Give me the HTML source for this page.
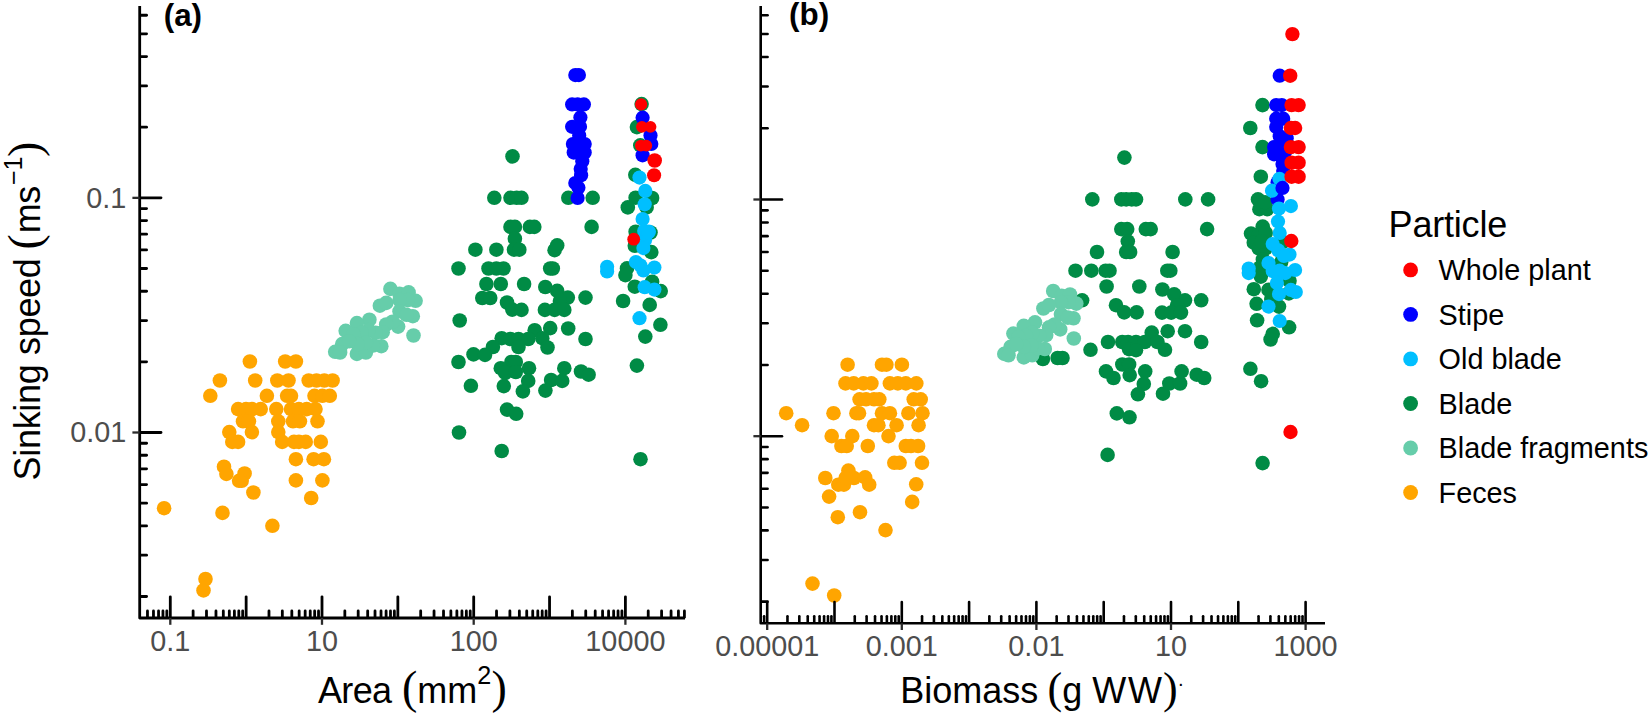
<!DOCTYPE html>
<html><head><meta charset="utf-8"><title>Sinking speed</title>
<style>
html,body{margin:0;padding:0;background:#fff;}
svg{display:block;}
text{font-family:"Liberation Sans",Arial,sans-serif;}
.tk{fill:#4d4d4d;font-size:28.8px;}
.ttl{fill:#000;font-size:36px;}
.sup{fill:#000;font-size:25.2px;}
.lg{fill:#000;font-size:28.8px;}
.sym{fill:#000;font-family:"Liberation Serif","DejaVu Serif",serif;font-size:45px;}
</style></head><body>
<svg width="1650" height="715" viewBox="0 0 1650 715">
<rect width="1650" height="715" fill="#fff"/>
<g fill="#FFA500"><circle cx="249.9" cy="361.5" r="7.3"/><circle cx="285.2" cy="361.5" r="7.3"/><circle cx="295.9" cy="361.5" r="7.3"/><circle cx="219.9" cy="380.5" r="7.3"/><circle cx="255.2" cy="380.5" r="7.3"/><circle cx="277.3" cy="380.5" r="7.3"/><circle cx="288.5" cy="380.5" r="7.3"/><circle cx="308.7" cy="380.5" r="7.3"/><circle cx="316.5" cy="380.5" r="7.3"/><circle cx="324.3" cy="380.5" r="7.3"/><circle cx="332.6" cy="380.5" r="7.3"/><circle cx="210.3" cy="395.8" r="7.3"/><circle cx="266.9" cy="395.8" r="7.3"/><circle cx="287.1" cy="395.8" r="7.3"/><circle cx="291.0" cy="395.8" r="7.3"/><circle cx="314.5" cy="395.8" r="7.3"/><circle cx="322.4" cy="395.8" r="7.3"/><circle cx="329.8" cy="395.8" r="7.3"/><circle cx="238.1" cy="409.1" r="7.3"/><circle cx="246.0" cy="409.1" r="7.3"/><circle cx="251.9" cy="409.1" r="7.3"/><circle cx="260.7" cy="409.1" r="7.3"/><circle cx="276.3" cy="409.1" r="7.3"/><circle cx="291.0" cy="409.1" r="7.3"/><circle cx="298.9" cy="409.1" r="7.3"/><circle cx="306.7" cy="409.1" r="7.3"/><circle cx="315.5" cy="409.1" r="7.3"/><circle cx="243.0" cy="421.3" r="7.3"/><circle cx="248.9" cy="421.3" r="7.3"/><circle cx="278.3" cy="421.3" r="7.3"/><circle cx="293.0" cy="421.3" r="7.3"/><circle cx="299.9" cy="421.3" r="7.3"/><circle cx="317.5" cy="421.3" r="7.3"/><circle cx="229.3" cy="432.1" r="7.3"/><circle cx="251.9" cy="432.1" r="7.3"/><circle cx="278.3" cy="432.1" r="7.3"/><circle cx="232.3" cy="441.9" r="7.3"/><circle cx="238.1" cy="441.9" r="7.3"/><circle cx="282.2" cy="441.9" r="7.3"/><circle cx="294.0" cy="441.9" r="7.3"/><circle cx="298.9" cy="441.9" r="7.3"/><circle cx="305.7" cy="441.9" r="7.3"/><circle cx="320.8" cy="441.9" r="7.3"/><circle cx="295.9" cy="459.2" r="7.3"/><circle cx="313.6" cy="459.2" r="7.3"/><circle cx="323.9" cy="459.2" r="7.3"/><circle cx="224.0" cy="466.7" r="7.3"/><circle cx="226.4" cy="473.9" r="7.3"/><circle cx="244.6" cy="473.5" r="7.3"/><circle cx="241.7" cy="480.8" r="7.3"/><circle cx="295.9" cy="480.4" r="7.3"/><circle cx="322.4" cy="480.4" r="7.3"/><circle cx="253.4" cy="492.5" r="7.3"/><circle cx="311.2" cy="498.0" r="7.3"/><circle cx="164.1" cy="508.2" r="7.3"/><circle cx="222.5" cy="512.9" r="7.3"/><circle cx="272.4" cy="525.8" r="7.3"/><circle cx="205.5" cy="579.0" r="7.3"/><circle cx="203.5" cy="590.4" r="7.3"/><circle cx="239.1" cy="480.8" r="7.3"/></g>
<g fill="#66CDAA"><circle cx="390.4" cy="288.9" r="7.3"/><circle cx="399.5" cy="293.8" r="7.3"/><circle cx="408.6" cy="292.4" r="7.3"/><circle cx="415.6" cy="300.8" r="7.3"/><circle cx="407.9" cy="300.1" r="7.3"/><circle cx="399.5" cy="300.1" r="7.3"/><circle cx="379.9" cy="305.7" r="7.3"/><circle cx="386.2" cy="302.9" r="7.3"/><circle cx="399.5" cy="311.3" r="7.3"/><circle cx="412.8" cy="316.2" r="7.3"/><circle cx="406.5" cy="314.8" r="7.3"/><circle cx="413.5" cy="335.5" r="7.3"/><circle cx="398.1" cy="326.6" r="7.3"/><circle cx="392.5" cy="321.7" r="7.3"/><circle cx="386.2" cy="324.5" r="7.3"/><circle cx="369.4" cy="319.7" r="7.3"/><circle cx="356.9" cy="323.1" r="7.3"/><circle cx="345.7" cy="330.8" r="7.3"/><circle cx="382.7" cy="332.2" r="7.3"/><circle cx="375.7" cy="332.9" r="7.3"/><circle cx="368.7" cy="330.1" r="7.3"/><circle cx="361.7" cy="332.9" r="7.3"/><circle cx="353.4" cy="334.3" r="7.3"/><circle cx="342.2" cy="344.1" r="7.3"/><circle cx="335.2" cy="351.8" r="7.3"/><circle cx="340.1" cy="352.5" r="7.3"/><circle cx="356.9" cy="353.9" r="7.3"/><circle cx="365.9" cy="352.5" r="7.3"/><circle cx="381.3" cy="346.2" r="7.3"/><circle cx="372.9" cy="345.5" r="7.3"/><circle cx="365.9" cy="342.7" r="7.3"/><circle cx="357.6" cy="344.1" r="7.3"/><circle cx="349.2" cy="341.3" r="7.3"/></g>
<g fill="#008B45"><circle cx="512.5" cy="156.4" r="7.3"/><circle cx="494.3" cy="197.8" r="7.3"/><circle cx="510.5" cy="197.8" r="7.3"/><circle cx="516.7" cy="197.8" r="7.3"/><circle cx="521.5" cy="197.8" r="7.3"/><circle cx="568.3" cy="197.8" r="7.3"/><circle cx="592.7" cy="197.8" r="7.3"/><circle cx="510.5" cy="226.9" r="7.3"/><circle cx="514.9" cy="226.9" r="7.3"/><circle cx="529.9" cy="226.9" r="7.3"/><circle cx="534.3" cy="226.9" r="7.3"/><circle cx="591.6" cy="226.9" r="7.3"/><circle cx="514.9" cy="238.7" r="7.3"/><circle cx="475.4" cy="249.7" r="7.3"/><circle cx="496.4" cy="249.7" r="7.3"/><circle cx="514.0" cy="249.7" r="7.3"/><circle cx="519.3" cy="249.7" r="7.3"/><circle cx="554.6" cy="250.2" r="7.3"/><circle cx="557.2" cy="245.4" r="7.3"/><circle cx="458.5" cy="268.5" r="7.3"/><circle cx="488.5" cy="268.5" r="7.3"/><circle cx="496.4" cy="268.5" r="7.3"/><circle cx="503.5" cy="268.5" r="7.3"/><circle cx="550.2" cy="268.5" r="7.3"/><circle cx="552.8" cy="268.5" r="7.3"/><circle cx="486.4" cy="284.0" r="7.3"/><circle cx="500.8" cy="284.0" r="7.3"/><circle cx="524.1" cy="284.0" r="7.3"/><circle cx="545.3" cy="287.0" r="7.3"/><circle cx="557.2" cy="290.9" r="7.3"/><circle cx="567.8" cy="297.6" r="7.3"/><circle cx="585.5" cy="297.6" r="7.3"/><circle cx="559.9" cy="301.1" r="7.3"/><circle cx="482.3" cy="298.0" r="7.3"/><circle cx="490.2" cy="298.0" r="7.3"/><circle cx="507.0" cy="302.5" r="7.3"/><circle cx="512.3" cy="309.6" r="7.3"/><circle cx="521.5" cy="309.9" r="7.3"/><circle cx="544.9" cy="309.9" r="7.3"/><circle cx="554.6" cy="309.9" r="7.3"/><circle cx="564.3" cy="309.9" r="7.3"/><circle cx="459.7" cy="320.5" r="7.3"/><circle cx="534.7" cy="330.2" r="7.3"/><circle cx="550.2" cy="328.1" r="7.3"/><circle cx="568.2" cy="328.5" r="7.3"/><circle cx="585.5" cy="339.0" r="7.3"/><circle cx="501.7" cy="338.2" r="7.3"/><circle cx="510.5" cy="339.0" r="7.3"/><circle cx="518.5" cy="339.0" r="7.3"/><circle cx="528.2" cy="339.0" r="7.3"/><circle cx="542.3" cy="338.2" r="7.3"/><circle cx="492.9" cy="347.0" r="7.3"/><circle cx="518.5" cy="347.0" r="7.3"/><circle cx="547.5" cy="347.5" r="7.3"/><circle cx="473.5" cy="354.4" r="7.3"/><circle cx="485.0" cy="354.9" r="7.3"/><circle cx="458.5" cy="362.0" r="7.3"/><circle cx="511.4" cy="362.0" r="7.3"/><circle cx="515.8" cy="362.0" r="7.3"/><circle cx="500.8" cy="368.2" r="7.3"/><circle cx="529.0" cy="368.2" r="7.3"/><circle cx="564.3" cy="368.2" r="7.3"/><circle cx="581.0" cy="371.5" r="7.3"/><circle cx="588.6" cy="374.7" r="7.3"/><circle cx="505.2" cy="372.9" r="7.3"/><circle cx="515.8" cy="372.0" r="7.3"/><circle cx="528.2" cy="380.9" r="7.3"/><circle cx="551.1" cy="380.0" r="7.3"/><circle cx="562.2" cy="380.9" r="7.3"/><circle cx="470.9" cy="385.8" r="7.3"/><circle cx="503.8" cy="386.1" r="7.3"/><circle cx="522.9" cy="391.4" r="7.3"/><circle cx="545.4" cy="390.6" r="7.3"/><circle cx="507.0" cy="409.6" r="7.3"/><circle cx="516.2" cy="413.8" r="7.3"/><circle cx="459.0" cy="432.5" r="7.3"/><circle cx="501.7" cy="451.0" r="7.3"/><circle cx="641.6" cy="104.1" r="7.3"/><circle cx="636.9" cy="127.1" r="7.3"/><circle cx="640.3" cy="145.3" r="7.3"/><circle cx="635.3" cy="174.8" r="7.3"/><circle cx="635.6" cy="197.7" r="7.3"/><circle cx="652.1" cy="198.0" r="7.3"/><circle cx="627.8" cy="207.4" r="7.3"/><circle cx="646.6" cy="207.4" r="7.3"/><circle cx="635.6" cy="231.7" r="7.3"/><circle cx="650.5" cy="232.5" r="7.3"/><circle cx="634.8" cy="245.8" r="7.3"/><circle cx="651.3" cy="252.1" r="7.3"/><circle cx="627.0" cy="268.4" r="7.3"/><circle cx="625.4" cy="275.1" r="7.3"/><circle cx="634.8" cy="286.7" r="7.3"/><circle cx="652.1" cy="281.7" r="7.3"/><circle cx="660.7" cy="291.1" r="7.3"/><circle cx="623.1" cy="301.0" r="7.3"/><circle cx="649.7" cy="304.9" r="7.3"/><circle cx="660.4" cy="324.8" r="7.3"/><circle cx="645.3" cy="336.6" r="7.3"/><circle cx="636.9" cy="365.6" r="7.3"/><circle cx="640.5" cy="459.2" r="7.3"/></g>
<g fill="#00BFFF"><circle cx="639.5" cy="177.6" r="7.1"/><circle cx="645.3" cy="190.9" r="7.1"/><circle cx="644.7" cy="204.3" r="7.1"/><circle cx="642.6" cy="219.1" r="7.1"/><circle cx="644.2" cy="230.9" r="7.1"/><circle cx="648.9" cy="231.7" r="7.1"/><circle cx="645.0" cy="240.3" r="7.1"/><circle cx="643.4" cy="248.1" r="7.1"/><circle cx="648.1" cy="232.4" r="7.1"/><circle cx="635.9" cy="262.1" r="7.1"/><circle cx="654.4" cy="267.6" r="7.1"/><circle cx="643.4" cy="270.4" r="7.1"/><circle cx="640.3" cy="265.3" r="7.1"/><circle cx="607.1" cy="266.8" r="7.1"/><circle cx="607.1" cy="271.5" r="7.1"/><circle cx="644.7" cy="287.2" r="7.1"/><circle cx="654.4" cy="289.6" r="7.1"/><circle cx="639.5" cy="318.2" r="7.1"/></g>
<g fill="#0000FF"><circle cx="575.3" cy="75.1" r="7.1"/><circle cx="578.9" cy="75.1" r="7.1"/><circle cx="572.1" cy="104.4" r="7.1"/><circle cx="577.6" cy="104.4" r="7.1"/><circle cx="583.9" cy="104.4" r="7.1"/><circle cx="580.4" cy="117.4" r="7.1"/><circle cx="572.1" cy="126.8" r="7.1"/><circle cx="580.0" cy="126.8" r="7.1"/><circle cx="579.2" cy="135.4" r="7.1"/><circle cx="572.9" cy="144.0" r="7.1"/><circle cx="579.2" cy="144.0" r="7.1"/><circle cx="584.7" cy="144.0" r="7.1"/><circle cx="573.7" cy="152.6" r="7.1"/><circle cx="580.0" cy="152.6" r="7.1"/><circle cx="584.7" cy="152.6" r="7.1"/><circle cx="582.3" cy="161.3" r="7.1"/><circle cx="642.6" cy="117.7" r="7.1"/><circle cx="650.5" cy="135.4" r="7.1"/><circle cx="651.3" cy="144.0" r="7.1"/><circle cx="642.6" cy="155.3" r="7.1"/><circle cx="580.7" cy="169.0" r="7.1"/><circle cx="581.1" cy="175.3" r="7.1"/><circle cx="575.3" cy="183.1" r="7.1"/><circle cx="578.4" cy="187.8" r="7.1"/><circle cx="577.6" cy="198.0" r="7.1"/></g>
<g fill="#FF0000"><circle cx="641.1" cy="104.4" r="6.1"/><circle cx="641.9" cy="126.8" r="5.9"/><circle cx="650.5" cy="126.8" r="5.9"/><circle cx="640.8" cy="145.6" r="5.9"/><circle cx="646.3" cy="145.6" r="5.9"/><circle cx="654.7" cy="160.5" r="7.3"/><circle cx="654.1" cy="175.3" r="7.05"/><circle cx="633.7" cy="239.2" r="6.4"/></g>
<g fill="#FFA500"><circle cx="847.6" cy="364.7" r="7.3"/><circle cx="882.0" cy="364.7" r="7.3"/><circle cx="886.4" cy="364.7" r="7.3"/><circle cx="901.9" cy="364.7" r="7.3"/><circle cx="845.5" cy="383.4" r="7.3"/><circle cx="853.7" cy="383.4" r="7.3"/><circle cx="863.4" cy="383.4" r="7.3"/><circle cx="871.4" cy="383.4" r="7.3"/><circle cx="889.9" cy="383.4" r="7.3"/><circle cx="897.8" cy="383.4" r="7.3"/><circle cx="905.8" cy="383.4" r="7.3"/><circle cx="916.3" cy="383.4" r="7.3"/><circle cx="859.6" cy="399.3" r="7.3"/><circle cx="866.1" cy="399.3" r="7.3"/><circle cx="874.0" cy="399.3" r="7.3"/><circle cx="879.3" cy="399.3" r="7.3"/><circle cx="913.7" cy="399.3" r="7.3"/><circle cx="920.7" cy="399.3" r="7.3"/><circle cx="786.2" cy="413.2" r="7.3"/><circle cx="833.5" cy="413.2" r="7.3"/><circle cx="856.4" cy="413.2" r="7.3"/><circle cx="859.0" cy="413.2" r="7.3"/><circle cx="882.0" cy="413.2" r="7.3"/><circle cx="889.9" cy="413.2" r="7.3"/><circle cx="908.4" cy="413.2" r="7.3"/><circle cx="922.5" cy="413.2" r="7.3"/><circle cx="802.1" cy="425.2" r="7.3"/><circle cx="874.0" cy="425.2" r="7.3"/><circle cx="878.4" cy="425.2" r="7.3"/><circle cx="896.6" cy="425.2" r="7.3"/><circle cx="918.6" cy="425.2" r="7.3"/><circle cx="831.7" cy="436.1" r="7.3"/><circle cx="852.3" cy="436.1" r="7.3"/><circle cx="888.5" cy="436.1" r="7.3"/><circle cx="841.4" cy="446.0" r="7.3"/><circle cx="846.7" cy="446.0" r="7.3"/><circle cx="867.8" cy="446.0" r="7.3"/><circle cx="905.8" cy="446.0" r="7.3"/><circle cx="911.0" cy="446.0" r="7.3"/><circle cx="918.1" cy="446.0" r="7.3"/><circle cx="894.3" cy="462.8" r="7.3"/><circle cx="899.6" cy="462.8" r="7.3"/><circle cx="922.0" cy="462.8" r="7.3"/><circle cx="848.4" cy="470.6" r="7.3"/><circle cx="825.3" cy="478.0" r="7.3"/><circle cx="853.9" cy="478.0" r="7.3"/><circle cx="865.1" cy="477.3" r="7.3"/><circle cx="838.3" cy="484.7" r="7.3"/><circle cx="843.9" cy="484.7" r="7.3"/><circle cx="869.2" cy="484.7" r="7.3"/><circle cx="916.2" cy="484.3" r="7.3"/><circle cx="829.1" cy="496.6" r="7.3"/><circle cx="912.2" cy="501.9" r="7.3"/><circle cx="860.0" cy="512.2" r="7.3"/><circle cx="837.8" cy="517.2" r="7.3"/><circle cx="885.5" cy="530.1" r="7.3"/><circle cx="812.5" cy="583.6" r="7.3"/><circle cx="834.2" cy="595.5" r="7.3"/><circle cx="845.7" cy="478.0" r="7.3"/></g>
<g fill="#008B45"><circle cx="1124.4" cy="157.6" r="7.3"/><circle cx="1092.3" cy="199.4" r="7.3"/><circle cx="1121.3" cy="199.4" r="7.3"/><circle cx="1126.2" cy="199.4" r="7.3"/><circle cx="1131.7" cy="199.4" r="7.3"/><circle cx="1136.0" cy="199.4" r="7.3"/><circle cx="1185.3" cy="199.4" r="7.3"/><circle cx="1208.1" cy="199.4" r="7.3"/><circle cx="1121.3" cy="229.1" r="7.3"/><circle cx="1127.2" cy="229.1" r="7.3"/><circle cx="1145.8" cy="229.1" r="7.3"/><circle cx="1150.7" cy="229.1" r="7.3"/><circle cx="1207.1" cy="229.1" r="7.3"/><circle cx="1127.8" cy="241.3" r="7.3"/><circle cx="1097.0" cy="252.0" r="7.3"/><circle cx="1126.2" cy="252.0" r="7.3"/><circle cx="1130.1" cy="252.0" r="7.3"/><circle cx="1172.6" cy="252.0" r="7.3"/><circle cx="1075.5" cy="270.7" r="7.3"/><circle cx="1091.3" cy="270.7" r="7.3"/><circle cx="1105.6" cy="270.7" r="7.3"/><circle cx="1109.5" cy="270.7" r="7.3"/><circle cx="1167.3" cy="270.7" r="7.3"/><circle cx="1170.3" cy="270.7" r="7.3"/><circle cx="1106.6" cy="286.5" r="7.3"/><circle cx="1139.3" cy="286.5" r="7.3"/><circle cx="1162.4" cy="289.5" r="7.3"/><circle cx="1082.1" cy="300.3" r="7.3"/><circle cx="1174.2" cy="294.4" r="7.3"/><circle cx="1185.0" cy="300.3" r="7.3"/><circle cx="1201.2" cy="300.3" r="7.3"/><circle cx="1177.1" cy="305.2" r="7.3"/><circle cx="1116.0" cy="305.2" r="7.3"/><circle cx="1124.2" cy="312.4" r="7.3"/><circle cx="1136.6" cy="312.4" r="7.3"/><circle cx="1162.0" cy="312.6" r="7.3"/><circle cx="1171.2" cy="312.6" r="7.3"/><circle cx="1181.0" cy="312.6" r="7.3"/><circle cx="1151.7" cy="332.6" r="7.3"/><circle cx="1167.7" cy="331.2" r="7.3"/><circle cx="1185.0" cy="331.2" r="7.3"/><circle cx="1201.2" cy="342.0" r="7.3"/><circle cx="1108.0" cy="342.0" r="7.3"/><circle cx="1122.3" cy="342.0" r="7.3"/><circle cx="1128.1" cy="342.0" r="7.3"/><circle cx="1136.0" cy="342.0" r="7.3"/><circle cx="1144.8" cy="342.0" r="7.3"/><circle cx="1157.5" cy="342.0" r="7.3"/><circle cx="1129.1" cy="349.2" r="7.3"/><circle cx="1136.0" cy="350.2" r="7.3"/><circle cx="1165.0" cy="349.8" r="7.3"/><circle cx="1090.5" cy="349.8" r="7.3"/><circle cx="1057.6" cy="358.0" r="7.3"/><circle cx="1062.5" cy="358.0" r="7.3"/><circle cx="1042.9" cy="359.0" r="7.3"/><circle cx="1122.3" cy="364.5" r="7.3"/><circle cx="1129.1" cy="364.5" r="7.3"/><circle cx="1106.0" cy="371.4" r="7.3"/><circle cx="1113.5" cy="378.0" r="7.3"/><circle cx="1129.7" cy="375.1" r="7.3"/><circle cx="1145.2" cy="371.4" r="7.3"/><circle cx="1143.8" cy="383.9" r="7.3"/><circle cx="1137.9" cy="394.3" r="7.3"/><circle cx="1163.0" cy="393.7" r="7.3"/><circle cx="1169.3" cy="383.5" r="7.3"/><circle cx="1180.1" cy="383.5" r="7.3"/><circle cx="1181.6" cy="371.4" r="7.3"/><circle cx="1196.7" cy="374.7" r="7.3"/><circle cx="1204.2" cy="378.0" r="7.3"/><circle cx="1116.8" cy="413.4" r="7.3"/><circle cx="1129.5" cy="417.3" r="7.3"/><circle cx="1107.6" cy="454.9" r="7.3"/><circle cx="1262.5" cy="105.1" r="7.3"/><circle cx="1250.3" cy="128.0" r="7.3"/><circle cx="1262.5" cy="147.1" r="7.3"/><circle cx="1260.8" cy="176.7" r="7.3"/><circle cx="1258.0" cy="199.4" r="7.3"/><circle cx="1259.4" cy="209.2" r="7.3"/><circle cx="1267.1" cy="209.2" r="7.3"/><circle cx="1265.0" cy="202.2" r="7.3"/><circle cx="1262.7" cy="226.6" r="7.3"/><circle cx="1251.0" cy="233.6" r="7.3"/><circle cx="1258.7" cy="234.3" r="7.3"/><circle cx="1265.7" cy="232.9" r="7.3"/><circle cx="1253.8" cy="242.7" r="7.3"/><circle cx="1258.7" cy="248.3" r="7.3"/><circle cx="1265.7" cy="248.3" r="7.3"/><circle cx="1262.9" cy="259.5" r="7.3"/><circle cx="1281.1" cy="262.3" r="7.3"/><circle cx="1260.8" cy="276.6" r="7.3"/><circle cx="1289.5" cy="280.8" r="7.3"/><circle cx="1253.8" cy="289.2" r="7.3"/><circle cx="1268.5" cy="289.9" r="7.3"/><circle cx="1288.8" cy="293.4" r="7.3"/><circle cx="1256.6" cy="303.8" r="7.3"/><circle cx="1279.0" cy="306.6" r="7.3"/><circle cx="1271.3" cy="299.0" r="7.3"/><circle cx="1257.1" cy="320.3" r="7.3"/><circle cx="1289.1" cy="327.3" r="7.3"/><circle cx="1272.7" cy="333.9" r="7.3"/><circle cx="1270.6" cy="339.5" r="7.3"/><circle cx="1250.4" cy="368.8" r="7.3"/><circle cx="1261.1" cy="381.2" r="7.3"/><circle cx="1262.6" cy="463.1" r="7.3"/><circle cx="1261.5" cy="241.3" r="7.3"/><circle cx="1282.5" cy="242.0" r="7.3"/><circle cx="1260.1" cy="267.5" r="7.3"/></g>
<g fill="#66CDAA"><circle cx="1053.2" cy="291.0" r="7.3"/><circle cx="1061.6" cy="295.9" r="7.3"/><circle cx="1070.0" cy="294.5" r="7.3"/><circle cx="1076.3" cy="303.6" r="7.3"/><circle cx="1068.6" cy="302.2" r="7.3"/><circle cx="1060.9" cy="302.2" r="7.3"/><circle cx="1043.4" cy="308.5" r="7.3"/><circle cx="1049.0" cy="305.0" r="7.3"/><circle cx="1060.9" cy="314.1" r="7.3"/><circle cx="1073.5" cy="318.3" r="7.3"/><circle cx="1067.9" cy="317.6" r="7.3"/><circle cx="1073.8" cy="338.5" r="7.3"/><circle cx="1060.2" cy="329.4" r="7.3"/><circle cx="1054.6" cy="324.5" r="7.3"/><circle cx="1049.0" cy="327.3" r="7.3"/><circle cx="1035.0" cy="322.4" r="7.3"/><circle cx="1023.8" cy="325.9" r="7.3"/><circle cx="1013.4" cy="333.6" r="7.3"/><circle cx="1046.2" cy="335.0" r="7.3"/><circle cx="1039.2" cy="335.7" r="7.3"/><circle cx="1032.2" cy="332.9" r="7.3"/><circle cx="1025.9" cy="335.7" r="7.3"/><circle cx="1018.3" cy="337.1" r="7.3"/><circle cx="1010.6" cy="346.9" r="7.3"/><circle cx="1004.3" cy="353.9" r="7.3"/><circle cx="1008.5" cy="355.3" r="7.3"/><circle cx="1023.8" cy="357.4" r="7.3"/><circle cx="1032.2" cy="355.3" r="7.3"/><circle cx="1044.8" cy="349.0" r="7.3"/><circle cx="1037.8" cy="348.3" r="7.3"/><circle cx="1031.5" cy="345.5" r="7.3"/><circle cx="1023.8" cy="346.9" r="7.3"/><circle cx="1016.2" cy="344.1" r="7.3"/></g>
<g fill="#0000FF"><circle cx="1279.7" cy="75.7" r="7.1"/><circle cx="1276.2" cy="105.1" r="7.1"/><circle cx="1281.8" cy="105.1" r="7.1"/><circle cx="1276.2" cy="118.7" r="7.1"/><circle cx="1283.2" cy="118.7" r="7.1"/><circle cx="1276.2" cy="127.1" r="7.1"/><circle cx="1279.7" cy="136.2" r="7.1"/><circle cx="1286.7" cy="138.3" r="7.1"/><circle cx="1274.1" cy="147.1" r="7.1"/><circle cx="1279.7" cy="147.1" r="7.1"/><circle cx="1285.3" cy="147.1" r="7.1"/><circle cx="1274.1" cy="154.3" r="7.1"/><circle cx="1281.1" cy="155.7" r="7.1"/><circle cx="1285.3" cy="151.5" r="7.1"/><circle cx="1282.5" cy="164.1" r="7.1"/><circle cx="1283.2" cy="171.1" r="7.1"/><circle cx="1277.6" cy="182.3" r="7.1"/><circle cx="1277.6" cy="199.4" r="7.1"/></g>
<g fill="#00BFFF"><circle cx="1279.4" cy="178.8" r="7.1"/><circle cx="1272.0" cy="190.7" r="7.1"/><circle cx="1290.9" cy="206.1" r="7.1"/><circle cx="1279.0" cy="208.5" r="7.1"/><circle cx="1278.0" cy="221.5" r="7.1"/><circle cx="1279.7" cy="232.9" r="7.1"/><circle cx="1272.7" cy="244.1" r="7.1"/><circle cx="1278.3" cy="250.4" r="7.1"/><circle cx="1289.5" cy="254.6" r="7.1"/><circle cx="1283.9" cy="256.0" r="7.1"/><circle cx="1268.5" cy="263.0" r="7.1"/><circle cx="1248.7" cy="268.6" r="7.1"/><circle cx="1279.7" cy="270.7" r="7.1"/><circle cx="1295.1" cy="270.0" r="7.1"/><circle cx="1248.7" cy="273.1" r="7.1"/><circle cx="1272.7" cy="271.0" r="7.1"/><circle cx="1285.3" cy="273.1" r="7.1"/><circle cx="1276.9" cy="282.9" r="7.1"/><circle cx="1290.9" cy="289.9" r="7.1"/><circle cx="1295.8" cy="292.0" r="7.1"/><circle cx="1279.0" cy="294.1" r="7.1"/><circle cx="1268.5" cy="306.6" r="7.1"/><circle cx="1279.7" cy="321.0" r="7.1"/></g>
<g fill="#0000FF"><circle cx="1282.5" cy="187.9" r="7.1"/></g>
<g fill="#FF0000"><circle cx="1292.4" cy="34.1" r="7.2"/><circle cx="1290.2" cy="75.7" r="7.2"/><circle cx="1291.6" cy="105.1" r="7.2"/><circle cx="1298.6" cy="105.1" r="7.2"/><circle cx="1290.9" cy="128.0" r="7.2"/><circle cx="1295.1" cy="128.0" r="7.2"/><circle cx="1290.9" cy="147.1" r="7.2"/><circle cx="1298.6" cy="147.1" r="7.2"/><circle cx="1291.6" cy="162.7" r="7.2"/><circle cx="1298.6" cy="162.7" r="7.2"/><circle cx="1291.6" cy="176.7" r="7.2"/><circle cx="1298.6" cy="176.7" r="7.2"/><circle cx="1291.3" cy="241.0" r="7.2"/><circle cx="1290.5" cy="432.0" r="7.2"/></g>
<g stroke="#000" stroke-width="2.8" stroke-linecap="round" fill="none">
<path d="M140.5 596.51H146.6"/>
<path d="M140.5 555.19H146.6"/>
<path d="M140.5 525.88H146.6"/>
<path d="M140.5 503.14H146.6"/>
<path d="M140.5 484.56H146.6"/>
<path d="M140.5 468.85H146.6"/>
<path d="M140.5 455.24H146.6"/>
<path d="M140.5 443.24H146.6"/>
<path d="M140.5 432.50H161.0"/>
<path d="M140.5 361.86H146.6"/>
<path d="M140.5 320.54H146.6"/>
<path d="M140.5 291.23H146.6"/>
<path d="M140.5 268.49H146.6"/>
<path d="M140.5 249.91H146.6"/>
<path d="M140.5 234.20H146.6"/>
<path d="M140.5 220.59H146.6"/>
<path d="M140.5 208.59H146.6"/>
<path d="M140.5 197.85H161.0"/>
<path d="M140.5 127.21H146.6"/>
<path d="M140.5 85.89H146.6"/>
<path d="M140.5 56.58H146.6"/>
<path d="M140.5 33.84H146.6"/>
<path d="M140.5 15.26H146.6"/>
<path d="M147.47 617.2V611.0"/>
<path d="M153.47 617.2V611.0"/>
<path d="M158.55 617.2V611.0"/>
<path d="M162.95 617.2V611.0"/>
<path d="M166.83 617.2V611.0"/>
<path d="M170.30 617.2V596.8"/>
<path d="M193.13 617.2V611.0"/>
<path d="M206.49 617.2V611.0"/>
<path d="M215.97 617.2V611.0"/>
<path d="M223.32 617.2V611.0"/>
<path d="M229.32 617.2V611.0"/>
<path d="M234.40 617.2V611.0"/>
<path d="M238.80 617.2V611.0"/>
<path d="M242.68 617.2V611.0"/>
<path d="M246.15 617.2V596.8"/>
<path d="M268.98 617.2V611.0"/>
<path d="M282.34 617.2V611.0"/>
<path d="M291.82 617.2V611.0"/>
<path d="M299.17 617.2V611.0"/>
<path d="M305.17 617.2V611.0"/>
<path d="M310.25 617.2V611.0"/>
<path d="M314.65 617.2V611.0"/>
<path d="M318.53 617.2V611.0"/>
<path d="M322.00 617.2V596.8"/>
<path d="M344.83 617.2V611.0"/>
<path d="M358.19 617.2V611.0"/>
<path d="M367.67 617.2V611.0"/>
<path d="M375.02 617.2V611.0"/>
<path d="M381.02 617.2V611.0"/>
<path d="M386.10 617.2V611.0"/>
<path d="M390.50 617.2V611.0"/>
<path d="M394.38 617.2V611.0"/>
<path d="M397.85 617.2V596.8"/>
<path d="M420.68 617.2V611.0"/>
<path d="M434.04 617.2V611.0"/>
<path d="M443.52 617.2V611.0"/>
<path d="M450.87 617.2V611.0"/>
<path d="M456.87 617.2V611.0"/>
<path d="M461.95 617.2V611.0"/>
<path d="M466.35 617.2V611.0"/>
<path d="M470.23 617.2V611.0"/>
<path d="M473.70 617.2V596.8"/>
<path d="M496.53 617.2V611.0"/>
<path d="M509.89 617.2V611.0"/>
<path d="M519.37 617.2V611.0"/>
<path d="M526.72 617.2V611.0"/>
<path d="M532.72 617.2V611.0"/>
<path d="M537.80 617.2V611.0"/>
<path d="M542.20 617.2V611.0"/>
<path d="M546.08 617.2V611.0"/>
<path d="M549.55 617.2V596.8"/>
<path d="M572.38 617.2V611.0"/>
<path d="M585.74 617.2V611.0"/>
<path d="M595.22 617.2V611.0"/>
<path d="M602.57 617.2V611.0"/>
<path d="M608.57 617.2V611.0"/>
<path d="M613.65 617.2V611.0"/>
<path d="M618.05 617.2V611.0"/>
<path d="M621.93 617.2V611.0"/>
<path d="M625.40 617.2V596.8"/>
<path d="M648.23 617.2V611.0"/>
<path d="M661.59 617.2V611.0"/>
<path d="M671.07 617.2V611.0"/>
<path d="M678.42 617.2V611.0"/>
<path d="M684.42 617.2V611.0"/>
</g>
<path d="M139.7 5.9V618.0H685.0" stroke="#000" stroke-width="2.8" fill="none" stroke-linejoin="round"/>
<g stroke="#2b2b2b" stroke-width="2.3" fill="none">
<path d="M170.30 618.0V624.8"/>
<path d="M322.00 618.0V624.8"/>
<path d="M473.70 618.0V624.8"/>
<path d="M625.40 618.0V624.8"/>
<path d="M139.7 197.85H132.4"/>
<path d="M139.7 432.50H132.4"/>
</g>
<text class="tk" x="170.3" y="650.8" text-anchor="middle">0.1</text>
<text class="tk" x="322.0" y="650.8" text-anchor="middle">10</text>
<text class="tk" x="473.7" y="650.8" text-anchor="middle">100</text>
<text class="tk" x="625.4" y="650.8" text-anchor="middle">10000</text>
<text class="tk" x="126.4" y="207.5" text-anchor="end">0.1</text>
<text class="tk" x="126.4" y="442.2" text-anchor="end">0.01</text>
<g stroke="#000" stroke-width="2.6" stroke-linecap="round" fill="none">
<path d="M761.5 601.65H767.6"/>
<path d="M761.5 559.97H767.6"/>
<path d="M761.5 530.39H767.6"/>
<path d="M761.5 507.45H767.6"/>
<path d="M761.5 488.71H767.6"/>
<path d="M761.5 472.87H767.6"/>
<path d="M761.5 459.14H767.6"/>
<path d="M761.5 447.03H767.6"/>
<path d="M761.5 436.20H782.0"/>
<path d="M761.5 364.95H767.6"/>
<path d="M761.5 323.27H767.6"/>
<path d="M761.5 293.69H767.6"/>
<path d="M761.5 270.75H767.6"/>
<path d="M761.5 252.01H767.6"/>
<path d="M761.5 236.17H767.6"/>
<path d="M761.5 222.44H767.6"/>
<path d="M761.5 210.33H767.6"/>
<path d="M761.5 199.50H782.0"/>
<path d="M761.5 128.25H767.6"/>
<path d="M761.5 86.57H767.6"/>
<path d="M761.5 56.99H767.6"/>
<path d="M761.5 34.05H767.6"/>
<path d="M761.5 15.31H767.6"/>
<path d="M764.12 622.4V616.2"/>
<path d="M767.20 622.4V602.0"/>
<path d="M787.46 622.4V616.2"/>
<path d="M799.31 622.4V616.2"/>
<path d="M807.72 622.4V616.2"/>
<path d="M814.24 622.4V616.2"/>
<path d="M819.57 622.4V616.2"/>
<path d="M824.08 622.4V616.2"/>
<path d="M827.98 622.4V616.2"/>
<path d="M831.42 622.4V616.2"/>
<path d="M834.50 622.4V602.0"/>
<path d="M854.76 622.4V616.2"/>
<path d="M866.61 622.4V616.2"/>
<path d="M875.02 622.4V616.2"/>
<path d="M881.54 622.4V616.2"/>
<path d="M886.87 622.4V616.2"/>
<path d="M891.38 622.4V616.2"/>
<path d="M895.28 622.4V616.2"/>
<path d="M898.72 622.4V616.2"/>
<path d="M901.80 622.4V602.0"/>
<path d="M922.06 622.4V616.2"/>
<path d="M933.91 622.4V616.2"/>
<path d="M942.32 622.4V616.2"/>
<path d="M948.84 622.4V616.2"/>
<path d="M954.17 622.4V616.2"/>
<path d="M958.68 622.4V616.2"/>
<path d="M962.58 622.4V616.2"/>
<path d="M966.02 622.4V616.2"/>
<path d="M969.10 622.4V602.0"/>
<path d="M989.36 622.4V616.2"/>
<path d="M1001.21 622.4V616.2"/>
<path d="M1009.62 622.4V616.2"/>
<path d="M1016.14 622.4V616.2"/>
<path d="M1021.47 622.4V616.2"/>
<path d="M1025.98 622.4V616.2"/>
<path d="M1029.88 622.4V616.2"/>
<path d="M1033.32 622.4V616.2"/>
<path d="M1036.40 622.4V602.0"/>
<path d="M1056.66 622.4V616.2"/>
<path d="M1068.51 622.4V616.2"/>
<path d="M1076.92 622.4V616.2"/>
<path d="M1083.44 622.4V616.2"/>
<path d="M1088.77 622.4V616.2"/>
<path d="M1093.28 622.4V616.2"/>
<path d="M1097.18 622.4V616.2"/>
<path d="M1100.62 622.4V616.2"/>
<path d="M1103.70 622.4V602.0"/>
<path d="M1123.96 622.4V616.2"/>
<path d="M1135.81 622.4V616.2"/>
<path d="M1144.22 622.4V616.2"/>
<path d="M1150.74 622.4V616.2"/>
<path d="M1156.07 622.4V616.2"/>
<path d="M1160.58 622.4V616.2"/>
<path d="M1164.48 622.4V616.2"/>
<path d="M1167.92 622.4V616.2"/>
<path d="M1171.00 622.4V602.0"/>
<path d="M1191.26 622.4V616.2"/>
<path d="M1203.11 622.4V616.2"/>
<path d="M1211.52 622.4V616.2"/>
<path d="M1218.04 622.4V616.2"/>
<path d="M1223.37 622.4V616.2"/>
<path d="M1227.88 622.4V616.2"/>
<path d="M1231.78 622.4V616.2"/>
<path d="M1235.22 622.4V616.2"/>
<path d="M1238.30 622.4V602.0"/>
<path d="M1258.56 622.4V616.2"/>
<path d="M1270.41 622.4V616.2"/>
<path d="M1278.82 622.4V616.2"/>
<path d="M1285.34 622.4V616.2"/>
<path d="M1290.67 622.4V616.2"/>
<path d="M1295.18 622.4V616.2"/>
<path d="M1299.08 622.4V616.2"/>
<path d="M1302.52 622.4V616.2"/>
<path d="M1305.60 622.4V602.0"/>
</g>
<path d="M760.7 5.9V623.2H1325.0" stroke="#000" stroke-width="2.6" fill="none" stroke-linejoin="round"/>
<g stroke="#2b2b2b" stroke-width="2.3" fill="none">
<path d="M767.20 623.2V630.0"/>
<path d="M901.80 623.2V630.0"/>
<path d="M1036.40 623.2V630.0"/>
<path d="M1171.00 623.2V630.0"/>
<path d="M1305.60 623.2V630.0"/>
<path d="M760.7 199.50H753.4"/>
<path d="M760.7 436.20H753.4"/>
</g>
<text class="tk" x="767.2" y="656.1" text-anchor="middle">0.00001</text>
<text class="tk" x="901.8" y="656.1" text-anchor="middle">0.001</text>
<text class="tk" x="1036.4" y="656.1" text-anchor="middle">0.01</text>
<text class="tk" x="1171.0" y="656.1" text-anchor="middle">10</text>
<text class="tk" x="1305.6" y="656.1" text-anchor="middle">1000</text>
<text x="163.7" y="25.6" font-size="31.4" font-weight="bold" fill="#000">(a)</text>
<text x="789.0" y="25.4" font-size="31.4" font-weight="bold" fill="#000">(b)</text>
<text class="ttl" x="317.9" y="702.7" letter-spacing="-0.6">Area</text><text class="sym" x="402.0" y="702.7" style="font-size:46px">(</text><text class="ttl" x="417.2" y="702.7">mm</text><text class="sup" x="477.3" y="684.0">2</text><text class="sym" x="491.6" y="702.7" style="font-size:46px">)</text>
<text class="ttl" x="900.2" y="702.6">Biomass</text><text class="sym" x="1047.5" y="702.6" style="font-size:44px">(</text><text class="ttl" x="1062.2" y="702.6">g</text><text class="ttl" x="1092.3" y="702.6" letter-spacing="1.8">WW</text><text class="sym" x="1163.1" y="702.6" style="font-size:44px">)</text><text x="1177.6" y="690.3" font-size="20" fill="#000">·</text>
<g transform="translate(39.8,480) rotate(-90)"><text class="ttl" x="-0.4" y="0" letter-spacing="-0.33">Sinking speed</text><text class="sym" x="230.6" y="0" style="font-size:46px">(</text><text class="ttl" x="246.8" y="0" letter-spacing="-0.5">ms</text><text class="sup" x="294.9" y="-18.2">−</text><text class="sup" x="309.4" y="-18.2">1</text><text class="sym" x="323.1" y="0" style="font-size:46px">)</text></g>
<text x="1388.6" y="236.5" font-size="36" fill="#000" letter-spacing="-0.2">Particle</text>
<circle cx="1410.6" cy="269.9" r="7.4" fill="#FF0000"/><text class="lg" x="1438.6" y="280.2">Whole plant</text>
<circle cx="1410.6" cy="314.4" r="7.4" fill="#0000FF"/><text class="lg" x="1438.6" y="324.7">Stipe</text>
<circle cx="1410.6" cy="358.9" r="7.4" fill="#00BFFF"/><text class="lg" x="1438.6" y="369.3">Old blade</text>
<circle cx="1410.6" cy="403.5" r="7.4" fill="#008B45"/><text class="lg" x="1438.6" y="413.8">Blade</text>
<circle cx="1410.6" cy="448.0" r="7.4" fill="#66CDAA"/><text class="lg" x="1438.6" y="458.4">Blade fragments</text>
<circle cx="1410.6" cy="492.5" r="7.4" fill="#FFA500"/><text class="lg" x="1438.6" y="502.9">Feces</text>
</svg></body></html>
